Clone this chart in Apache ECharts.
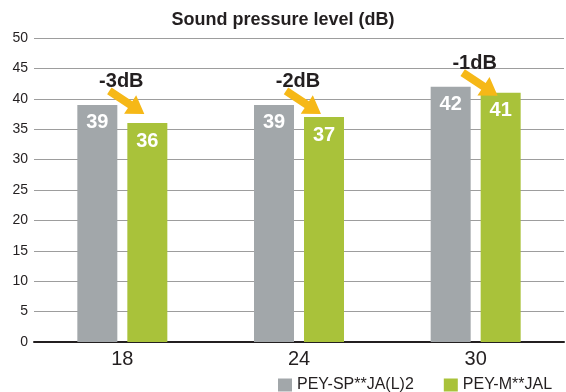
<!DOCTYPE html>
<html>
<head>
<meta charset="utf-8">
<style>
  html, body { margin: 0; padding: 0; background: #ffffff; }
  #chart { width: 566px; height: 392px; }
</style>
<script src="https://cdn.jsdelivr.net/npm/echarts@6/dist/echarts.min.js"></script>
</head>
<body>
<div id="chart"></div>
<script>
// Categories along the x axis
const categories = ['18', '24', '30'];
// Series names
const seriesNames = ['PEY-SP**JA(L)2', 'PEY-M**JAL'];
// Sound pressure level (dB) per model
const spValues = [39, 39, 42];
const mValues = [36, 37, 41];
// Value axis range
const yMin = 0;
const yMax = 50;
const yStep = 5;

const FONT = '"Liberation Sans", Arial, Helvetica, sans-serif';
const TEXT = '#231f20';
const GRAY = '#a2a7aa';
const GREEN = '#a9c23a';
const ARROW = '#f6b817';

// One row per category: [index, gray value, green value]
const diffRows = categories.map((c, i) => [i, spValues[i], mValues[i]]);

// Difference label plus an arrow pointing at the green bar
function renderDiff(params, api) {
  const i = api.value(0);
  const top = api.coord([i, api.value(1)]);
  const diff = api.value(2) - api.value(1);
  const lx = top[0];
  const ly = top[1] - 24;
  const S = [lx - 13, ly + 10];
  const T = [S[0] + 35, S[1] + 23];
  const dx = T[0] - S[0], dy = T[1] - S[1];
  const len = Math.sqrt(dx * dx + dy * dy);
  const ux = dx / len, uy = dy / len;
  const nx = -uy, ny = ux;
  const headLen = 17, sw = 8, hw = 22;
  const B = [T[0] - ux * headLen, T[1] - uy * headLen];
  const pts = [
    [S[0] + nx * sw / 2, S[1] + ny * sw / 2],
    [B[0] + nx * sw / 2, B[1] + ny * sw / 2],
    [B[0] + nx * hw / 2, B[1] + ny * hw / 2],
    T,
    [B[0] - nx * hw / 2, B[1] - ny * hw / 2],
    [B[0] - nx * sw / 2, B[1] - ny * sw / 2],
    [S[0] - nx * sw / 2, S[1] - ny * sw / 2]
  ];
  return {
    type: 'group',
    children: [
      { type: 'polygon', shape: { points: pts }, style: { fill: ARROW } },
      {
        type: 'text',
        style: {
          text: diff + 'dB',
          x: lx - 1, y: ly + 1,
          align: 'center', verticalAlign: 'middle',
          font: 'bold 20px ' + FONT,
          fill: TEXT
        }
      }
    ]
  };
}

const chart = echarts.init(document.getElementById('chart'), null, { renderer: 'canvas' });

chart.setOption({
  animation: false,
  backgroundColor: '#ffffff',
  title: {
    text: 'Sound pressure level (dB)',
    left: 'center',
    top: 11,
    padding: 0,
    textStyle: { fontFamily: FONT, fontSize: 18, fontWeight: 'bold', color: TEXT }
  },
  legend: {
    data: seriesNames,
    left: 278,
    top: 377,
    padding: 0,
    itemWidth: 14,
    itemHeight: 13,
    itemGap: 30,
    icon: 'rect',
    textStyle: { fontFamily: FONT, fontSize: 16, color: TEXT }
  },
  grid: { left: 34, right: 2, top: 38, bottom: 50, containLabel: false },
  xAxis: {
    type: 'category',
    data: categories,
    axisTick: { show: false },
    axisLine: { show: true, lineStyle: { color: TEXT, width: 2 } },
    axisLabel: { margin: 7, fontFamily: FONT, fontSize: 20, color: TEXT }
  },
  yAxis: {
    type: 'value',
    min: yMin,
    max: yMax,
    interval: yStep,
    axisLine: { show: false },
    axisTick: { show: false },
    axisLabel: { margin: 6, fontFamily: FONT, fontSize: 14, color: TEXT },
    splitLine: { show: true, lineStyle: { color: '#9d9d9d', width: 1 } }
  },
  series: [
    {
      name: seriesNames[0],
      type: 'bar',
      data: spValues,
      barWidth: 40,
      barGap: '25%',
      itemStyle: { color: GRAY },
      label: {
        show: true, position: 'insideTop', distance: 8,
        color: '#ffffff', fontFamily: FONT, fontSize: 20, fontWeight: 'bold'
      }
    },
    {
      name: seriesNames[1],
      type: 'bar',
      data: mValues,
      barWidth: 40,
      itemStyle: { color: GREEN },
      label: {
        show: true, position: 'insideTop', distance: 8,
        color: '#ffffff', fontFamily: FONT, fontSize: 20, fontWeight: 'bold'
      }
    },
    {
      name: 'diff',
      type: 'custom',
      data: diffRows,
      encode: { x: 0, y: 1 },
      renderItem: renderDiff,
      clip: false,
      z: 10,
      silent: true
    }
  ]
});
</script>
</body>
</html>
